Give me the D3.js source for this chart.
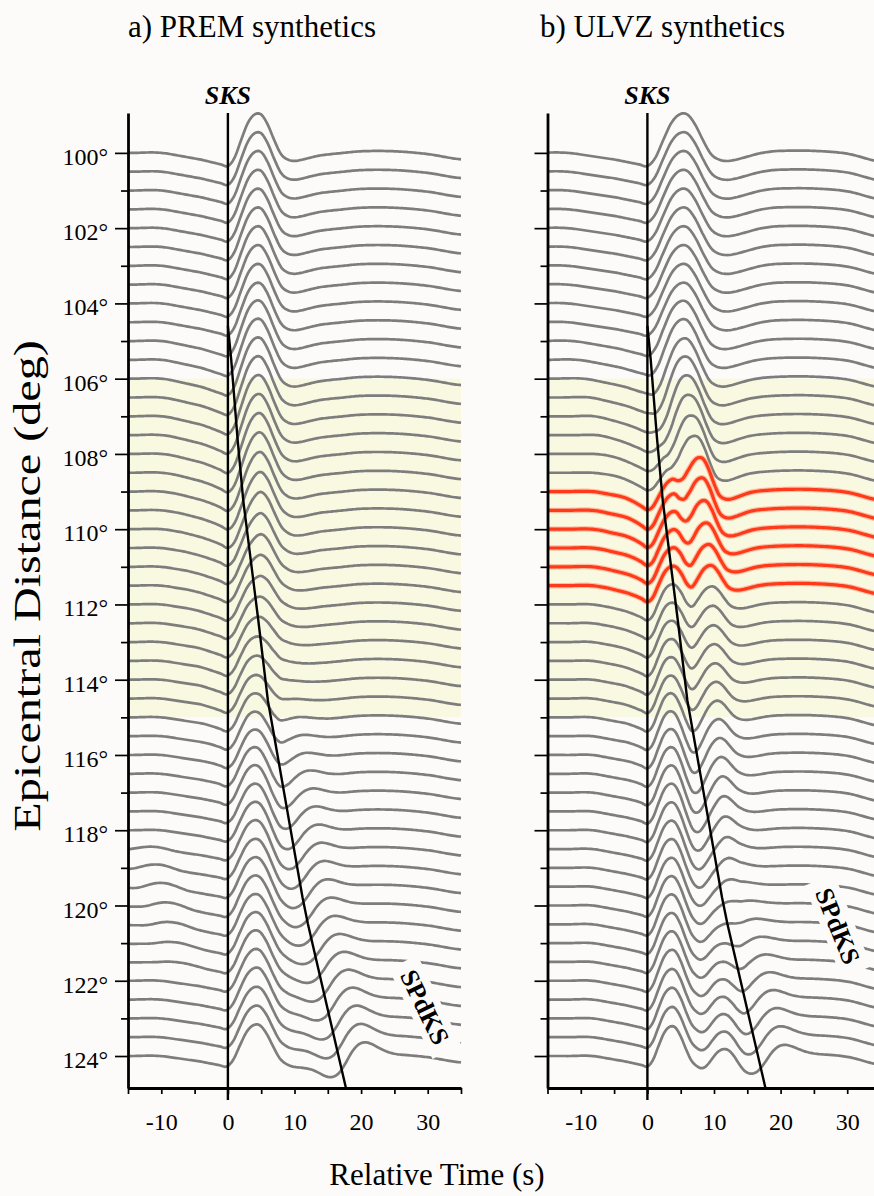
<!DOCTYPE html>
<html><head><meta charset="utf-8">
<script src="https://cdn.jsdelivr.net/npm/d3@7"></script>
<style>
html,body{margin:0;padding:0;background:#fdfbfa;}
svg{display:block;}
text{font-family:"Liberation Serif","Times New Roman",serif;fill:#000;}
</style></head><body>
<svg id="chart" width="874" height="1196"></svg>
<script>
// ---------------- DATA ----------------
const distances = [100,100.5,101,101.5,102,102.5,103,103.5,104,104.5,105,105.5,106,106.5,107,107.5,108,108.5,109,109.5,110,110.5,111,111.5,112,112.5,113,113.5,114,114.5,115,115.5,116,116.5,117,117.5,118,118.5,119,119.5,120,120.5,121,121.5,122,122.5,123,123.5,124];
const degreeTicks = [100,101,102,103,104,105,106,107,108,109,110,111,112,113,114,115,116,117,118,119,120,121,122,123,124];
const timeTicks = [-15,-10,-5,0,5,10,15,20,25,30,35];
const timeLabels = [-10,0,10,20,30];
const highlightBand = [106,115];
const redDistances = [109,109.5,110,110.5,111,111.5];

// SKS wavelet (relative to arrival, peak = 1)
const sksWaveletT = [-15,-14,-13,-12,-11,-10,-9,-8,-7,-6,-5,-4,-3,-2,-1,0,1,2,3,4,5,6,7,8,9,10,11,12,13,14,15,16];
const sksWavelet  = [0,0,0.005,0.01,0.01,0,-0.02,-0.05,-0.08,-0.11,-0.14,-0.17,-0.21,-0.25,-0.29,-0.33,-0.12,0.33,0.75,0.96,0.96,0.7,0.3,-0.04,-0.17,-0.2,-0.17,-0.12,-0.07,-0.03,-0.01,0];
// SPdKS wavelet (relative to the SPdKS line time)
const spdWaveletT = [-10,-9,-8,-7,-6,-5,-4,-3,-2,-1,0,1,2,3,4,5,6,7,8,9,10];
const spdWavelet  = [0,-0.05,-0.12,-0.2,-0.28,-0.38,-0.52,-0.72,-0.92,-1.0,-0.85,-0.4,0.15,0.5,0.6,0.5,0.32,0.16,0.06,0.01,0];
// slow coda common to each panel
const codaT     = [-15,-10,-5,0,5,10,15,20,25,30,35];
const codaPREM  = [0,0,0,0,0,0,-0.03,0.04,0.04,-0.03,-0.16];
const codaULVZ  = [0,0,0,0,0,0,0.0,0.05,0.05,-0.02,-0.22];

// SPdKS predicted arrival line (distance, relative time)
const spdLineDeg  = [104.6,105.5,107.6,109.23,112.4,114.55,115.35,119.78,120.48,124.87];
const spdLineTime = [0,0.5,1.45,2.3,4.55,6.0,6.8,11.2,12.0,17.75];

// PREM per-trace amplitudes
const premSksAmp   = [1,1,1,1,1,1,1,1,1,1,1,1, 0.99,0.98,0.97,0.96,0.95,0.94,0.93,0.92,0.92, 0.91,0.90,0.90,0.89,0.88,0.88,0.87,0.87,0.86,0.86,0.85,0.85, 0.85,0.85,0.84,0.84,0.84,0.83,0.83,0.83,0.82,0.82,0.82,0.81,0.81,0.80,0.80,0.80];
const premSksShift = [0,0,0,0,0,0,0,0,0,0,0,0,0,0,0,0,0,0,0,0,0, -0.1,-0.1,-0.1,-0.1,-0.1,-0.1,-0.1,-0.1,-0.1,-0.1,-0.1,-0.1, -0.2,-0.2,-0.2,-0.2,-0.2,-0.2,-0.2,-0.2,-0.2,-0.2,-0.2,-0.2,-0.2,-0.2,-0.2,-0.2];
const premSpdAmp   = [0,0,0,0,0,0,0,0,0, 0.03,0.05,0.07,0.09, 0.11,0.13,0.15,0.17,0.19,0.20,0.21,0.22, 0.22,0.23,0.23,0.24,0.24,0.25,0.25,0.26,0.27,0.28,0.29,0.30, 0.31,0.32,0.33,0.34,0.35,0.36,0.37,0.38,0.39,0.40,0.42,0.44,0.46,0.48,0.49,0.50];
const premPreAmp   = [0,0,0,0,0,0,0,0,0,0,0,0,0,0,0,0,0,0,0,0,0,0,0,0,0,0,0,0,0,0,0,0,0,0,0,0,0, 0.05,0.08,0.10,0.10,0.09,0.07,0.05, 0,0,0,0,0];
const premPreShift = [0,0,0,0,0,0,0,0,0,0,0,0,0,0,0,0,0,0,0,0,0,0,0,0,0,0,0,0,0,0,0,0,0,0,0,0,0, -16,-15,-14,-13,-12.5,-12,-11.5, 0,0,0,0,0];

// ULVZ per-trace amplitudes
const ulvzSksAmp    = [0,0,0,0,0,0,0,0,0,0,0,0,0, 0.08,0.15,0.25,0.35,0.45, 0.6,0.71,0.74,0.76,0.78,0.8, 0.82,0.84,0.85,0.86,0.86,0.86,0.86,0.86,0.86, 0.86,0.86,0.86,0.85,0.85,0.85,0.84,0.84,0.84,0.83,0.83,0.83,0.82,0.82,0.81,0.80];
const ulvzPostAmp   = [1,1,1,1,1,1,1,1,1,1, 1,1,0.98, 0.96,0.95,0.94,0.93,0.93, 0.92,0.9,0.8,0.7,0.62,0.55, 0.48,0.45,0.42,0.4,0.38,0.37,0.36,0.36,0.36, 0.36,0.36,0.36,0.36,0.36,0.36,0.36,0.36,0.36,0.36,0.36,0.36,0.35,0.35,0.35,0.35];
const ulvzPostShift = [0,0,0,0,0,0,0,0,0,0, 0.2,0.5,0.9, 1.4,2.0,2.6,3.2,3.7, 4.5,4.8,5.1,5.4,5.7,6.0, 6.0,6.1,6.2,6.3,6.4,6.5,6.6,6.7,6.8, 6.9,7.0,7.1,7.2,7.3,7.4,7.5,7.6,7.7,7.8,7.9,8.0,8.0,8.1,8.1,8.1];
const ulvzPostWidth = [1.2,1.2,1.2,1.2,1.2,1.2,1.2,1.2,1.2,1.2, 1.15,1.1,1.05, 1.0,0.95,0.9,0.85,0.82, 0.78,0.76,0.76,0.76,0.76,0.76, 0.8,0.8,0.8,0.8,0.8,0.8,0.8,0.8,0.8, 0.8,0.8,0.8,0.8,0.8,0.8,0.8,0.8,0.8,0.8,0.8,0.8,0.8,0.8,0.8,0.8];
const ulvzSpdAmp    = [0,0,0,0,0,0,0,0,0, 0.02,0.04,0.06,0.08, 0.10,0.12,0.14,0.15,0.16,0.17,0.18,0.19, 0.20,0.20,0.21,0.21,0.22,0.22,0.23,0.23,0.24,0.24,0.25,0.25, 0.26,0.27,0.28,0.28,0.29,0.30,0.31,0.32,0.33,0.33,0.34,0.35,0.36,0.37,0.38,0.38];
const ulvzSksWidth = 0.83;

// ---------------- RENDER ----------------
const W = 874, H = 1196;
const BG = "#fdfbfa";
const FONT = "Liberation Serif, Times New Roman, serif";
const GAIN = 1.063; // degrees of distance per unit amplitude
const svg = d3.select("#chart");
svg.append("rect").attr("width", W).attr("height", H).attr("fill", BG);

function sampler(ts, vs) {
  const n = ts.length;
  return function (x) {
    if (x <= ts[0]) return vs[0];
    if (x >= ts[n - 1]) return vs[n - 1];
    const i = d3.bisectRight(ts, x) - 1;
    const u = (x - ts[i]) / (ts[i + 1] - ts[i]);
    const p0 = vs[Math.max(i - 1, 0)], p1 = vs[i], p2 = vs[i + 1], p3 = vs[Math.min(i + 2, n - 1)];
    return 0.5 * (2 * p1 + (-p0 + p2) * u + (2 * p0 - 5 * p1 + 4 * p2 - p3) * u * u + (-p0 + 3 * p1 - 3 * p2 + p3) * u * u * u);
  };
}
const wSks = sampler(sksWaveletT, sksWavelet);
const wSpd = sampler(spdWaveletT, spdWavelet);
const cPrem = sampler(codaT, codaPREM);
const cUlvz = sampler(codaT, codaULVZ);
const tau = d3.scaleLinear().domain(spdLineDeg).range(spdLineTime);

const y = d3.scaleLinear().domain([98.94, 124.85]).range([113, 1088]);
const tSamples = d3.range(-15, 35.001, 0.25);

function premValue(i, t) {
  const d = distances[i];
  let v = premSksAmp[i] * wSks(t - premSksShift[i]);
  if (d >= spdLineDeg[0]) v += premSpdAmp[i] * wSpd(t - tau(d));
  v += premPreAmp[i] * wSks(t - premPreShift[i]);
  v += cPrem(t);
  return v;
}
function ulvzValue(i, t) {
  const d = distances[i];
  let v = ulvzSksAmp[i] * wSks(t / ulvzSksWidth);
  v += ulvzPostAmp[i] * wSks((t - ulvzPostShift[i]) / ulvzPostWidth[i]);
  if (d >= spdLineDeg[0]) v += ulvzSpdAmp[i] * wSpd(t - tau(d));
  v += cUlvz(t);
  return v;
}

const panels = [
  { x0: 128, value: premValue, red: [], title: "a) PREM synthetics", titleX: 128, labels: true,
    spd: { cx: 425, cy: 1007, angle: 64 } },
  { x0: 547.5, value: ulvzValue, red: redDistances, title: "b) ULVZ synthetics", titleX: 540, labels: false,
    spd: { cx: 838, cy: 926, angle: 68 } }
];

panels.forEach(p => {
  const x = d3.scaleLinear().domain([-15, 35]).range([p.x0, p.x0 + 333]);
  const g = svg.append("g");

  // highlight band
  g.append("rect")
    .attr("x", x(-15)).attr("width", Math.min(x(35), W) - x(-15))
    .attr("y", y(highlightBand[0])).attr("height", y(highlightBand[1]) - y(highlightBand[0]))
    .attr("fill", "#f9f8e1");

  const line = d3.line().x(q => x(q[0])).y(q => q[1]);
  const traces = distances.map((d, i) => ({
    d, red: p.red.includes(d),
    pts: tSamples.map(t => [t, y(d - GAIN * p.value(i, t))])
  }));

  g.append("g").selectAll("path").data(traces.filter(s => !s.red)).join("path")
    .attr("d", s => line(s.pts)).attr("fill", "none")
    .attr("stroke", "#7d7d7d").attr("stroke-width", 2.7).attr("stroke-linejoin", "round");
  const rg = g.append("g");
  rg.selectAll("path.halo").data(traces.filter(s => s.red)).join("path").attr("class", "halo")
    .attr("d", s => line(s.pts)).attr("fill", "none")
    .attr("stroke", "#ff9a78").attr("stroke-width", 5.5).attr("stroke-opacity", 0.6);
  rg.selectAll("path.core").data(traces.filter(s => s.red)).join("path").attr("class", "core")
    .attr("d", s => line(s.pts)).attr("fill", "none")
    .attr("stroke", "#ff3a1a").attr("stroke-width", 3.2);

  // SPdKS label with mask
  const lg = g.append("g").attr("transform", `translate(${p.spd.cx},${p.spd.cy}) rotate(${p.spd.angle})`);
  lg.append("rect").attr("x", -50).attr("y", -16).attr("width", 100).attr("height", 32).attr("fill", BG);
  lg.append("text").attr("text-anchor", "middle").attr("dy", "0.35em")
    .attr("font-family", FONT).attr("font-size", 26).attr("font-weight", "bold").text("SPdKS");

  // zero (SKS) line
  g.append("line").attr("x1", x(0)).attr("x2", x(0)).attr("y1", 113).attr("y2", 1100)
    .attr("stroke", "#000").attr("stroke-width", 2.4);
  // SPdKS line
  g.append("path")
    .attr("d", d3.line().x(k => x(spdLineTime[k])).y(k => y(spdLineDeg[k]))(spdLineDeg.map((_, k) => k)))
    .attr("fill", "none").attr("stroke", "#000").attr("stroke-width", 2.4);

  // y axis
  const ya = d3.axisLeft(y).tickValues(degreeTicks).tickSize(13).tickSizeOuter(0).tickPadding(7)
    .tickFormat(d => (p.labels && d % 2 === 0) ? d + "°" : "");
  const yg = g.append("g").attr("transform", `translate(${p.x0},0)`).call(ya)
    .attr("font-family", FONT).attr("font-size", 24);
  yg.select(".domain").attr("stroke-width", 2.8);
  yg.selectAll(".tick line").attr("stroke-width", 1.7).attr("x2", d => d % 2 === 0 ? -13 : -7);
  yg.selectAll(".tick text").attr("dy", "0.48em").attr("font-size", 24).attr("font-family", FONT);

  // x axis
  const xa = d3.axisBottom(x).tickValues(timeTicks).tickSize(6).tickSizeOuter(0).tickPadding(19)
    .tickFormat(d => timeLabels.includes(d) ? d : "");
  const xg = g.append("g").attr("transform", "translate(0,1088)").call(xa)
    .attr("font-family", FONT).attr("font-size", 24);
  xg.select(".domain").attr("stroke-width", 2.8);
  xg.selectAll(".tick line").attr("stroke-width", 1.7);
  xg.selectAll(".tick text").attr("font-size", 24).attr("font-family", FONT);

  // labels
  svg.append("text").attr("x", x(0)).attr("y", 104).attr("text-anchor", "middle")
    .attr("font-family", FONT).attr("font-size", 26).attr("font-weight", "bold").attr("font-style", "italic").text("SKS");
  svg.append("text").attr("x", p.titleX).attr("y", 37)
    .attr("font-family", FONT).attr("font-size", 31).text(p.title);
});

svg.append("text").attr("x", 437).attr("y", 1185).attr("text-anchor", "middle")
  .attr("font-family", FONT).attr("font-size", 31).text("Relative Time (s)");
svg.append("text").attr("transform", "translate(40,586) rotate(-90) scale(1.3,1)")
  .attr("text-anchor", "middle").attr("font-family", FONT).attr("font-size", 37).text("Epicentral Distance (deg)");
</script>
</body></html>
